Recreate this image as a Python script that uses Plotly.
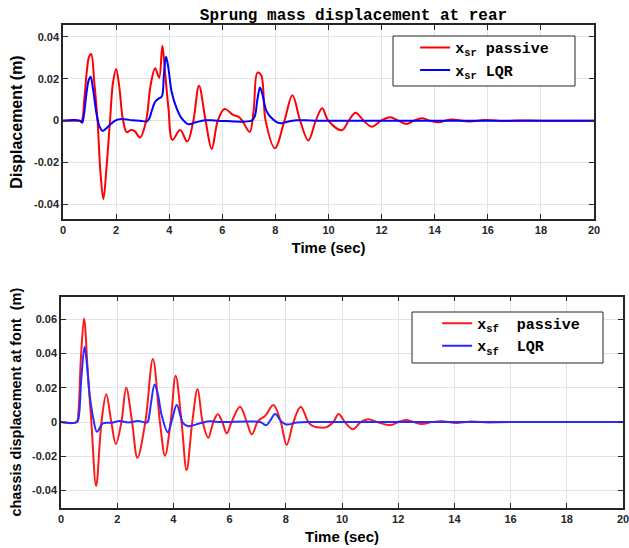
import plotly.graph_objects as go
from plotly.subplots import make_subplots

# rear sprung mass displacement (top plot)
t_sr_passive = [0, 0.6, 0.7, 0.8, 0.9, 0.98, 1.06, 1.18, 1.30, 1.41, 1.52, 1.64, 1.77, 1.88, 2.0,
                2.12, 2.25, 2.4, 2.55, 2.7, 2.9, 3.13, 3.3, 3.47, 3.62, 3.74, 3.85, 3.97, 4.12,
                4.41, 4.68, 4.91, 5.12, 5.37, 5.60, 5.83, 6.08, 6.41, 6.6, 6.75, 7.03, 7.18,
                7.32, 7.46, 7.63, 7.98, 8.34, 8.64, 8.93, 9.24, 9.52, 9.76, 9.99, 10.5, 10.76,
                11.02, 11.32, 11.63, 11.98, 12.32, 12.63, 12.94, 13.22, 13.51, 13.82, 14.13,
                14.6, 15.3, 15.9, 16.6, 17.2, 18, 20]
v_sr_passive = [0, 0, 0, 0.010, 0.024, 0.0305, 0.0318, 0.018, 0, -0.025, -0.0375, -0.022, 0,
                0.018, 0.0247, 0.016, 0.001, -0.0055, -0.0045, -0.0050, -0.0081, 0, 0.017,
                0.025, 0.0205, 0.0358, 0.022, 0.006, -0.0092, -0.0045, -0.010, 0, 0.0167, 0,
                -0.0135, 0, 0.0056, 0.0027, 0.0019, 0, -0.0054, 0.005, 0.0229, 0.0218, 0,
                -0.0132, 0, 0.0121, 0, -0.0095, 0, 0.0059, 0, -0.0046, 0, 0.0038, 0, -0.0029,
                0, 0.0016, 0, -0.0016, 0, 0.0011, 0, -0.0008, 0.0005, -0.0004, 0.0003,
                -0.0002, 0.0001, 0, 0]
t_sr_lqr = [0, 0.62, 0.72, 0.8, 0.89, 0.97, 1.04, 1.12, 1.27, 1.38, 1.49, 1.6, 1.77, 2.0, 2.21,
            2.6, 2.9, 3.15, 3.25, 3.35, 3.47, 3.6, 3.72, 3.8, 3.88, 3.97, 4.09, 4.28, 4.47,
            4.72, 5.0, 5.35, 5.8, 7.1, 7.22, 7.32, 7.42, 7.52, 7.65, 7.8, 8.15, 8.5, 8.8,
            9.5, 20]
v_sr_lqr = [0, 0, -0.001, 0.004, 0.0138, 0.0195, 0.021, 0.016, 0.0027, -0.003, -0.0049,
            -0.004, -0.002, 0.0002, 0.0008, 0.0002, 0, -0.0004, 0.001, 0.005, 0.009, 0.0105,
            0.0115, 0.022, 0.0305, 0.025, 0.0138, 0.0059, 0.0011, -0.0017, -0.0008, 0.0002,
            0, 0, 0.002, 0.010, 0.0158, 0.012, 0.005, 0.002, -0.0012, -0.0004, 0.0002, 0, 0]

# front chassis displacement (bottom plot)
t_sf_passive = [0, 0.55, 0.62, 0.7, 0.82, 0.95, 1.08, 1.25, 1.44, 1.61, 1.79, 1.95, 2.15,
                2.32, 2.53, 2.72, 3.0, 3.27, 3.52, 3.70, 3.90, 4.08, 4.29, 4.47, 4.67, 4.86,
                5.04, 5.24, 5.42, 5.58, 5.74, 5.90, 6.07, 6.37, 6.61, 6.79, 6.99, 7.08, 7.26,
                7.56, 7.82, 8.03, 8.27, 8.53, 8.80, 8.95, 9.1, 9.45, 9.69, 9.88, 10.1, 10.39,
                10.66, 10.94, 11.24, 11.74, 12.0, 12.28, 12.55, 12.84, 13.2, 13.55, 14.05,
                14.6, 15.2, 16, 20]
v_sf_passive = [0, 0, 0.006, 0.035, 0.0606, 0.030, 0, -0.0374, 0, 0.0162, 0, -0.0129, 0,
                0.0201, 0, -0.0209, 0, 0.0368, 0, -0.0197, 0, 0.0271, 0, -0.0281, 0, 0.0193,
                0, -0.0092, 0, 0.0045, 0, -0.0066, 0, 0.009, 0, -0.0072, 0, 0.0016, 0.0035,
                0.0099, 0, -0.0134, 0, 0.009, 0, -0.0023, -0.003, -0.003, 0, 0.0047, 0,
                -0.0042, 0, 0.0017, 0, -0.0018, 0, 0.0012, 0, -0.0011, 0, 0.0005, -0.0005,
                0.0003, -0.0002, 0, 0]
t_sf_lqr = [0, 0.57, 0.64, 0.72, 0.84, 0.92, 1.02, 1.15, 1.28, 1.49, 1.8, 2.09, 2.4, 2.74,
            3.07, 3.14, 3.21, 3.33, 3.45, 3.58, 3.80, 3.96, 4.12, 4.35, 4.53, 4.98, 5.3, 5.7,
            7.08, 7.3, 7.45, 7.62, 7.85, 8.03, 8.4, 9.0, 20]
v_sf_lqr = [0, 0, 0.004, 0.025, 0.044, 0.034, 0.0158, 0.002, -0.0057, -0.0008, -0.0004,
            0.0006, -0.0003, 0.0006, -0.0002, 0.004, 0.0119, 0.022, 0.016, 0.0041, -0.006,
            0.002, 0.0099, -0.0008, -0.0024, -0.0006, 0.0004, 0, 0, -0.0019, 0.001, 0.0047,
            0.0002, -0.0014, -0.0003, 0, 0]

x_ticks = list(range(0, 21, 2))
y_ticks_top = [-0.04, -0.02, 0, 0.02, 0.04]
y_labels_top = ["-0.04", "-0.02", "0", "0.02", "0.04"]
y_ticks_bot = [-0.04, -0.02, 0, 0.02, 0.04, 0.06]
y_labels_bot = ["-0.04", "-0.02", "0", "0.02", "0.04", "0.06"]

fig = make_subplots(rows=2, cols=1)

fig.add_trace(go.Scatter(x=t_sr_passive, y=v_sr_passive, mode="lines", name="x<sub>sr</sub> passive",
                         line=dict(color="#ff0000", width=2, shape="spline"), legend="legend"), row=1, col=1)
fig.add_trace(go.Scatter(x=t_sr_lqr, y=v_sr_lqr, mode="lines", name="x<sub>sr</sub> LQR",
                         line=dict(color="#0000ff", width=2, shape="spline"), legend="legend"), row=1, col=1)
fig.add_trace(go.Scatter(x=t_sf_passive, y=v_sf_passive, mode="lines", name="x<sub>sf</sub>  passive",
                         line=dict(color="#ff1a1a", width=2, shape="spline"), legend="legend2"), row=2, col=1)
fig.add_trace(go.Scatter(x=t_sf_lqr, y=v_sf_lqr, mode="lines", name="x<sub>sf</sub>  LQR",
                         line=dict(color="#2a2aff", width=2, shape="spline"), legend="legend2"), row=2, col=1)

tickfont = dict(family="Liberation Sans", size=11, color="#262626", weight="bold")
titlefont = dict(family="Liberation Sans", size=15, color="black", weight="bold")
axis_common = dict(showgrid=True, gridcolor="#e3e3e3", gridwidth=1, showline=True, linecolor="#262626",
                   linewidth=1.5, mirror="ticks", ticks="inside", ticklen=5, tickcolor="#262626",
                   tickwidth=1.2, zeroline=False, tickfont=tickfont, automargin=False,
                   ticklabeloverflow="allow")

fig.update_xaxes(axis_common)
fig.update_yaxes(axis_common)

fig.update_xaxes(range=[0, 20], tickvals=x_ticks, domain=[0.1002, 0.9444],
                 title=dict(text="Time (sec)", font=titlefont, standoff=8), row=1, col=1)
fig.update_yaxes(range=[-0.047, 0.0457], tickvals=y_ticks_top, ticktext=y_labels_top, domain=[0.6004, 0.9544],
                 title=dict(text="Displacement (m)",
                            font=dict(family="Liberation Sans", size=16, color="black", weight="bold"),
                            standoff=7), row=1, col=1)
fig.update_xaxes(range=[0, 20], tickvals=x_ticks, domain=[0.097, 0.9905],
                 title=dict(text="Time (sec)", font=titlefont, standoff=8), row=2, col=1)
fig.update_yaxes(range=[-0.0501, 0.0733], tickvals=y_ticks_bot, ticktext=y_labels_bot, domain=[0.0735, 0.4586],
                 title=dict(text="chassis displacement at font  (m)",
                            font=dict(family="Liberation Sans", size=14.5, color="black", weight="bold"),
                            standoff=7), row=2, col=1)

legfont = dict(family="Liberation Mono", size=15, color="black", weight="bold")
fig.update_layout(
    width=629, height=548,
    margin=dict(l=0, r=0, t=0, b=0),
    paper_bgcolor="white", plot_bgcolor="white",
    title=dict(text="Sprung mass displacement at rear", x=0.562, xanchor="center", y=0.973, yanchor="middle",
               font=dict(family="Liberation Mono", size=16, color="black", weight="bold")),
    legend=dict(x=0.66, y=0.943, xanchor="left", yanchor="top", font=legfont, bgcolor="rgba(0,0,0,0)",
                borderwidth=0, tracegroupgap=0),
    legend2=dict(x=0.695, y=0.44, xanchor="left", yanchor="top", font=legfont, bgcolor="rgba(0,0,0,0)",
                 borderwidth=0, tracegroupgap=0),
    shapes=[
        dict(type="rect", xref="paper", yref="paper", x0=393 / 629, x1=575 / 629, y0=1 - 86 / 548,
             y1=1 - 36 / 548, line=dict(color="#262626", width=1), fillcolor="white", layer="above"),
        dict(type="rect", xref="paper", yref="paper", x0=412 / 629, x1=603 / 629, y0=1 - 363 / 548,
             y1=1 - 312 / 548, line=dict(color="#262626", width=1), fillcolor="white", layer="above"),
    ],
)

# page body has an 8px default margin, drop it so the figure sits at the window corner
fig.write_html("out.html", config={"displayModeBar": False},
               post_script="document.body.style.margin='0';")
